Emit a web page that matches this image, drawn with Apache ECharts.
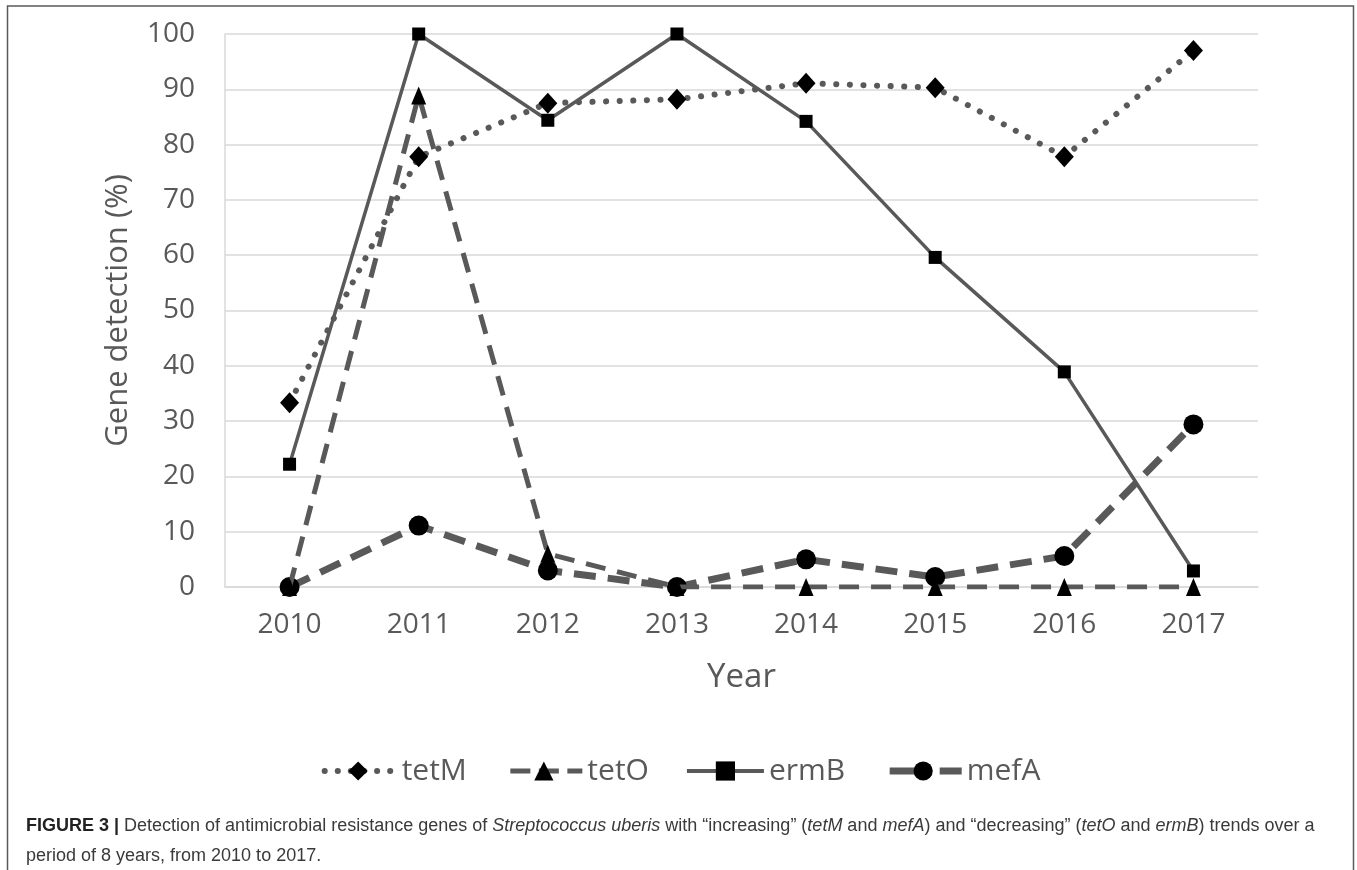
<!DOCTYPE html>
<html>
<head>
<meta charset="utf-8">
<script src="https://cdn.jsdelivr.net/npm/echarts@6/dist/echarts.min.js"></script>
<style>
html,body{margin:0;padding:0;background:#fff;}
#chart{width:1357px;height:870px;}
</style>
</head>
<body>
<div id="chart"></div>
<script>
const years = ['2010','2011','2012','2013','2014','2015','2016','2017'];
const tetM = [33.3, 77.8, 87.5, 88.2, 91.1, 90.3, 77.8, 97.0];
const tetO = [0, 88.9, 6.0, 0, 0, 0, 0, 0];
const ermB = [22.2, 100, 84.4, 100, 84.2, 59.6, 38.9, 2.9];
const mefA = [0, 11.1, 3.0, 0, 5.0, 1.8, 5.6, 29.4];
const yTicks = [0,10,20,30,40,50,60,70,80,90,100];

const FONT = '"Open Sans", "Noto Sans", sans-serif';
const CAP = '"Liberation Sans", Arial, sans-serif';
const GREY = '#595959';

const styles = {
  tetM: {width: 6, type: [0.1, 13.5], cap: 'round'},
  tetO: {width: 5, type: [20, 12]},
  ermB: {width: 3.5, type: 'solid'},
  mefA: {width: 7, type: [22, 12]}
};
const legendStyles = {
  tetM: {width: 6, type: [0.1, 13], cap: 'round', dashOffset: -5},
  tetO: {width: 5, type: [20, 8.5]},
  ermB: {width: 4, type: 'solid'},
  mefA: {width: 7, type: [28, 22]}
};

const chart = echarts.init(document.getElementById('chart'), null, {renderer:'canvas'});
chart.setOption({
  backgroundColor: '#fff',
  animation: false,
  graphic: [{
    type: 'rect',
    shape: {x: 7.5, y: 6, width: 1346, height: 900},
    style: {fill: 'none', stroke: '#5a5a5a', lineWidth: 1.5},
    silent: true
  }],
  title: {
    left: 21, top: 806,
    text: '{b|FIGURE 3 |} Detection of antimicrobial resistance genes of {i|Streptococcus uberis} with “increasing” ({i|tetM} and {i|mefA}) and “decreasing” ({i|tetO} and {i|ermB}) trends over a\nperiod of 8 years, from 2010 to 2017.',
    textStyle: {
      fontFamily: CAP,
      fontSize: 18, fontWeight: 'normal', color: '#3a3a3a', lineHeight: 30,
      rich: {
        b: {fontFamily: CAP, fontSize: 18, fontWeight: 'bold', color: '#222', lineHeight: 30},
        i: {fontFamily: CAP, fontSize: 18, fontStyle: 'italic', color: '#3a3a3a', lineHeight: 30}
      }
    }
  },
  legend: {
    top: 751, left: 'center',
    itemWidth: 77, itemHeight: 24, itemGap: 36,
    textStyle: {fontFamily: FONT, fontSize: 30, color: GREY},
    data: ['tetM','tetO','ermB','mefA'].map(n => ({
      name: n,
      lineStyle: Object.assign({color: GREY}, legendStyles[n])
    }))
  },
  grid: {left: 225, right: 99, top: 34, bottom: 283, containLabel: false},
  xAxis: {
    type: 'category', data: years, boundaryGap: true,
    name: 'Year', nameLocation: 'middle', nameGap: 74,
    nameTextStyle: {fontFamily: FONT, fontSize: 33, color: GREY},
    axisLine: {show: true, lineStyle: {color: '#d9d9d9', width: 1.5}},
    axisTick: {show: false},
    axisLabel: {fontFamily: FONT, fontSize: 28, color: GREY, margin: 24}
  },
  yAxis: {
    type: 'value', min: 0, max: 100, interval: 10,
    name: 'Gene detection (%)', nameLocation: 'middle', nameGap: 91,
    nameTextStyle: {fontFamily: FONT, fontSize: 31, color: GREY},
    axisLine: {show: true, lineStyle: {color: '#d9d9d9', width: 1.5}},
    axisTick: {show: false},
    splitLine: {show: true, lineStyle: {color: '#d9d9d9', width: 1.5}},
    axisLabel: {fontFamily: FONT, fontSize: 28, color: GREY, margin: 30,
      formatter: v => yTicks.includes(v) ? String(v) : ''}
  },
  series: [
    {
      name: 'tetM', type: 'line', data: tetM,
      symbol: 'diamond', symbolSize: [19, 21],
      itemStyle: {color: '#000'},
      lineStyle: Object.assign({color: GREY}, styles.tetM),
      z: 3
    },
    {
      name: 'tetO', type: 'line', data: tetO,
      symbol: 'triangle', symbolSize: [15, 18],
      itemStyle: {color: '#000'},
      lineStyle: Object.assign({color: GREY}, styles.tetO),
      z: 2
    },
    {
      name: 'ermB', type: 'line', data: ermB,
      symbol: 'rect', symbolSize: 13,
      itemStyle: {color: '#000'},
      lineStyle: Object.assign({color: GREY}, styles.ermB),
      z: 4
    },
    {
      name: 'mefA', type: 'line', data: mefA,
      symbol: 'circle', symbolSize: 20,
      itemStyle: {color: '#000'},
      lineStyle: Object.assign({color: GREY}, styles.mefA),
      z: 1
    }
  ]
});
</script>
</body>
</html>
